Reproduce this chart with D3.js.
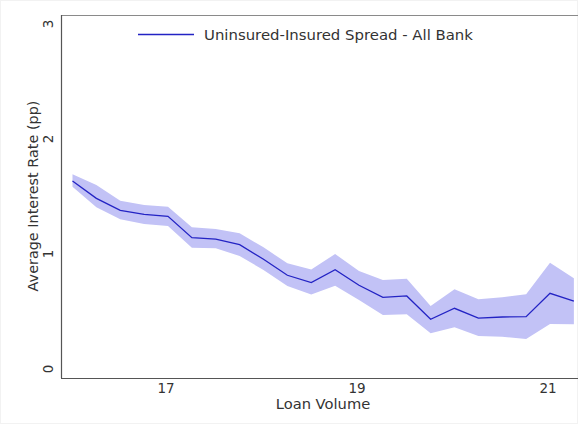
<!DOCTYPE html>
<html><head><meta charset="utf-8">
<script src="https://cdn.jsdelivr.net/npm/d3@7"></script>
<style>body{margin:0;background:#fff}svg{display:block}</style>
</head><body>
<svg id="c" width="578" height="424"></svg>
<script>
const loanVolume = [16,16.25,16.5,16.75,17,17.25,17.5,17.75,18,18.25,18.5,18.75,19,19.25,19.5,19.75,20,20.25,20.5,20.75,21,21.25];
const spread = [1.635,1.484,1.38,1.345,1.328,1.142,1.13,1.081,0.954,0.815,0.751,0.863,0.728,0.623,0.635,0.432,0.528,0.443,0.452,0.455,0.658,0.591];
const upper = [1.693,1.6,1.463,1.426,1.411,1.232,1.217,1.18,1.058,0.919,0.865,1.0,0.852,0.774,0.785,0.548,0.693,0.606,0.623,0.65,0.924,0.789];
const lower = [1.585,1.406,1.302,1.261,1.243,1.055,1.05,0.983,0.861,0.722,0.648,0.724,0.6,0.47,0.476,0.311,0.363,0.287,0.281,0.261,0.391,0.389];
const xTicks = [17,19,21];
const yTicks = [0,1,2,3];
const legendLabel = "Uninsured-Insured Spread - All Bank";

(function(){
const svg = d3.select("#c");
const font = "DejaVu Sans, sans-serif";
const pl = 61, pt = 15, pb = 378, pr = 600;
const x = d3.scaleLinear().domain([17,21]).range([168,550]);
const y = d3.scaleLinear().domain([0,3]).range([369,24]);

svg.append("rect").attr("x",0.5).attr("y",0.5).attr("width",577).attr("height",423)
  .attr("fill","#fff").attr("stroke","#f2f2f2");

svg.append("clipPath").attr("id","clip").append("rect")
  .attr("x",pl).attr("y",pt).attr("width",pr-pl).attr("height",pb-pt);

const data = loanVolume.map((v,i)=>({x:v,y:spread[i],hi:upper[i],lo:lower[i]}));
const g = svg.append("g").attr("clip-path","url(#clip)");
g.append("path").datum(data)
  .attr("d", d3.area().x(d=>x(d.x)).y0(d=>y(d.lo)).y1(d=>y(d.hi)))
  .attr("fill","#c2c2f6");
g.append("path").datum(data)
  .attr("d", d3.line().x(d=>x(d.x)).y(d=>y(d.y)))
  .attr("fill","none").attr("stroke","#2323c4").attr("stroke-width",1.3);

svg.append("line").attr("x1",pl).attr("x2",578).attr("y1",pt+0.5).attr("y2",pt+0.5)
  .attr("stroke","#8a8a8a").attr("stroke-width",1.2);
svg.append("line").attr("x1",pl+0.5).attr("x2",pl+0.5).attr("y1",pt).attr("y2",pb)
  .attr("stroke","#555").attr("stroke-width",1.2);
svg.append("line").attr("x1",pl).attr("x2",578).attr("y1",pb+0.5).attr("y2",pb+0.5)
  .attr("stroke","#555").attr("stroke-width",1.2);

svg.append("g").selectAll("text").data(xTicks).join("text")
  .attr("x",d=>x(d)-2).attr("y",393).attr("text-anchor","middle")
  .attr("font-family",font).attr("font-size",13.5).attr("fill","#333").text(d=>d);
svg.append("g").selectAll("text").data(yTicks).join("text")
  .attr("transform",d=>`translate(53,${y(d)}) rotate(-90)`).attr("text-anchor","middle")
  .attr("font-family",font).attr("font-size",13.5).attr("fill","#333").text(d=>d);

svg.append("text").attr("x",323).attr("y",409).attr("text-anchor","middle")
  .attr("font-family",font).attr("font-size",14.7).attr("fill","#333").text("Loan Volume");
svg.append("text").attr("transform","translate(38,196) rotate(-90)").attr("text-anchor","middle")
  .attr("font-family",font).attr("font-size",14.4).attr("fill","#333").text("Average Interest Rate (pp)");

svg.append("line").attr("x1",138).attr("x2",194).attr("y1",34.5).attr("y2",34.5)
  .attr("stroke","#2323c4").attr("stroke-width",1.3);
svg.append("text").attr("x",204).attr("y",40).attr("font-family",font).attr("font-size",14.9)
  .attr("fill","#333").text(legendLabel);
})();
</script>
</body></html>
